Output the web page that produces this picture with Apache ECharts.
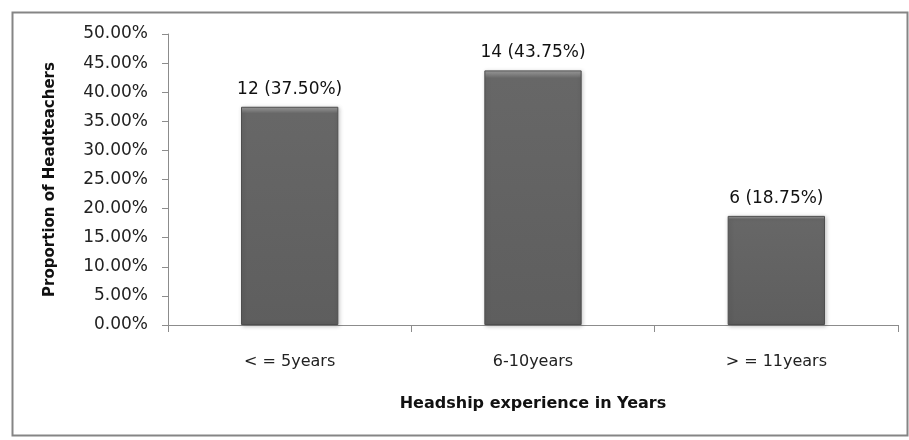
<!DOCTYPE html>
<html><head><meta charset="utf-8">
<script src="https://cdn.jsdelivr.net/npm/echarts@6/dist/echarts.min.js"></script>
<style>html,body{margin:0;padding:0;background:#fff}#c{width:909px;height:440px}</style>
</head><body><div id="c"></div>
<script>
const categories = ['< = 5years', '6-10years', '> = 11years'];
const counts = [12, 14, 6];
const percents = [37.50, 43.75, 18.75];
const yTitle = 'Proportion of Headteachers';
const xTitle = 'Headship experience in Years';
const FONT = '"DejaVu Sans", sans-serif';

const chart = echarts.init(document.getElementById('c'));
chart.setOption({
  animation: false,
  backgroundColor: '#fff',
  graphic: [{
    type: 'rect', left: 10, top: 10, shape: { width: 895, height: 423 },
    style: { fill: 'none', stroke: '#858585', lineWidth: 2 }, silent: true
  }],
  grid: { left: 168, right: 11, top: 34, bottom: 115 },
  xAxis: {
    type: 'category', data: categories,
    axisLine: { lineStyle: { color: '#8c8c8c' } },
    axisTick: { show: true, alignWithLabel: false, length: 7, lineStyle: { color: '#8c8c8c' } },
    axisLabel: { color: '#222', fontFamily: FONT, fontSize: 16, margin: 29 },
    name: xTitle, nameLocation: 'middle', nameGap: 71,
    nameTextStyle: { color: '#111', fontFamily: FONT, fontSize: 16, fontWeight: 'bold' }
  },
  yAxis: {
    type: 'value', min: 0, max: 50, interval: 5,
    splitLine: { show: false },
    axisLine: { show: true, lineStyle: { color: '#8c8c8c' } },
    axisTick: { show: true, length: 6, lineStyle: { color: '#8c8c8c' } },
    axisLabel: { color: '#222', fontFamily: FONT, fontSize: 17, margin: 20,
      formatter: v => v.toFixed(2) + '%' },
    name: yTitle, nameLocation: 'middle', nameGap: 110,
    nameTextStyle: { color: '#111', fontFamily: FONT, fontSize: 15, fontWeight: 'bold' }
  },
  series: [{
    type: 'bar', barWidth: '40%',
    data: percents.map((p, i) => ({ value: p, count: counts[i] })),
    itemStyle: {
      color: {
        type: 'linear', x: 0, y: 0, x2: 0, y2: 1,
        colorStops: [
          { offset: 0, color: '#9e9e9e' }, { offset: 0.012, color: '#8a8a8a' },
          { offset: 0.03, color: '#676767' }, { offset: 1, color: '#5e5e5e' }
        ]
      },
      borderColor: '#4e4e4e', borderWidth: 1,
      shadowColor: 'rgba(0,0,0,0.22)', shadowBlur: 4, shadowOffsetX: 1, shadowOffsetY: 1
    },
    label: {
      show: true, position: 'top', distance: 9, color: '#111',
      fontFamily: FONT, fontSize: 17,
      formatter: p => counts[p.dataIndex] + ' (' + percents[p.dataIndex].toFixed(2) + '%)'
    }
  }]
});
</script></body></html>
